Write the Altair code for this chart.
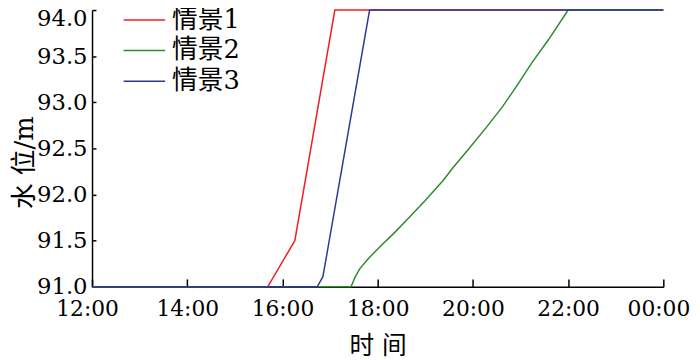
import altair as alt
import pandas as pd

series_names = ["情景1", "情景2", "情景3"]
series_colors = ["#f01e23", "#2f8a2f", "#2b3a96"]

s1_hours = [12.0, 15.69, 16.26, 17.10, 24.0]
s1_level = [91.0, 91.0, 91.5, 94.0, 94.0]

s2_hours = [12.0, 17.44, 17.53, 17.63, 17.81, 18.08, 18.36, 18.64, 18.99, 19.37, 19.58, 19.92, 20.27, 20.62, 20.95, 21.24, 21.59, 22.0, 24.0]
s2_level = [91.0, 91.0, 91.11, 91.20, 91.31, 91.45, 91.59, 91.74, 91.93, 92.15, 92.29, 92.50, 92.72, 92.95, 93.20, 93.43, 93.68, 94.0, 94.0]

s3_hours = [12.0, 16.73, 16.85, 17.83, 24.0]
s3_level = [91.0, 91.0, 91.11, 94.0, 94.0]

x_ticks = [12, 14, 16, 18, 20, 22, 24]
y_ticks = [91.0, 91.5, 92.0, 92.5, 93.0, 93.5, 94.0]

rows = []
for name, hs, ls in zip(series_names, [s1_hours, s2_hours, s3_hours], [s1_level, s2_level, s3_level]):
    for h, l in zip(hs, ls):
        rows.append({"series": name, "hour": h, "level": l})
df = pd.DataFrame(rows)

FONT = "DejaVu Serif, Noto Sans CJK SC"

chart = alt.Chart(df).mark_line(strokeWidth=1.5).encode(
    x=alt.X(
        "hour:Q",
        scale=alt.Scale(domain=[12, 24], nice=False, zero=False),
        axis=alt.Axis(
            values=x_ticks,
            labelExpr="(datum.value % 24 < 10 ? '0' : '') + (datum.value % 24) + ':00'",
            title="时 间",
            titleFont=FONT,
            titleFontSize=25,
            titleFontWeight="normal",
            titleColor="black",
            titleX=289,
            titleY=59,
            titleBaseline="middle",
            titleAlign="center",
            labelFont=FONT,
            labelFontSize=22,
            labelColor="black",
            labelPadding=20,
            labelBaseline="top",
            labelOffset={"condition": {"test": "datum.value == 12 || datum.value == 24", "value": -5}, "value": 0},
            tickSize=alt.ExprRef("-8"),
            tickColor="black",
            tickWidth=1.5,
            domainColor="black",
            domainWidth=1.5,
            grid=False,
            labelOverlap=False,
            labelFlush=False,
        ),
    ),
    y=alt.Y(
        "level:Q",
        scale=alt.Scale(domain=[91, 94], nice=False, zero=False),
        axis=alt.Axis(
            values=y_ticks,
            format=".1f",
            title="水 位/m",
            titleFont=FONT,
            titleFontSize=26,
            titleFontWeight="normal",
            titleColor="black",
            titleX=-68,
            titleY=154,
            titleAngle=270,
            titleBaseline="middle",
            titleAlign="center",
            labelFont=FONT,
            labelFontSize=23,
            labelColor="black",
            labelPadding=9,
            labelOffset={"condition": {"test": "datum.value >= 94", "value": 9}, "value": 0},
            tickSize=alt.ExprRef("-4"),
            tickColor="black",
            tickWidth=1.5,
            domainColor="black",
            domainWidth=1.5,
            grid=False,
            labelOverlap=False,
            labelFlush=False,
        ),
    ),
    color=alt.Color(
        "series:N",
        scale=alt.Scale(domain=series_names, range=series_colors),
        legend=alt.Legend(
            title=None,
            orient="none",
            legendX=38,
            legendY=-5,
            symbolType="M-1.5,0H1.5",
            symbolSize=784,
            symbolStrokeWidth=1.5,
            labelFont=FONT,
            labelFontSize=26,
            labelColor="black",
            labelOffset=13,
            rowPadding=3,
            padding=0,
        ),
    ),
).properties(
    width=578,
    height=280,
    autosize=alt.AutoSizeParams(type="none"),
    padding={"left": 85, "top": 0, "right": 29, "bottom": 72},
).configure_view(stroke=None)

chart.save("out.html", embed_options={"renderer": "svg", "actions": False})
